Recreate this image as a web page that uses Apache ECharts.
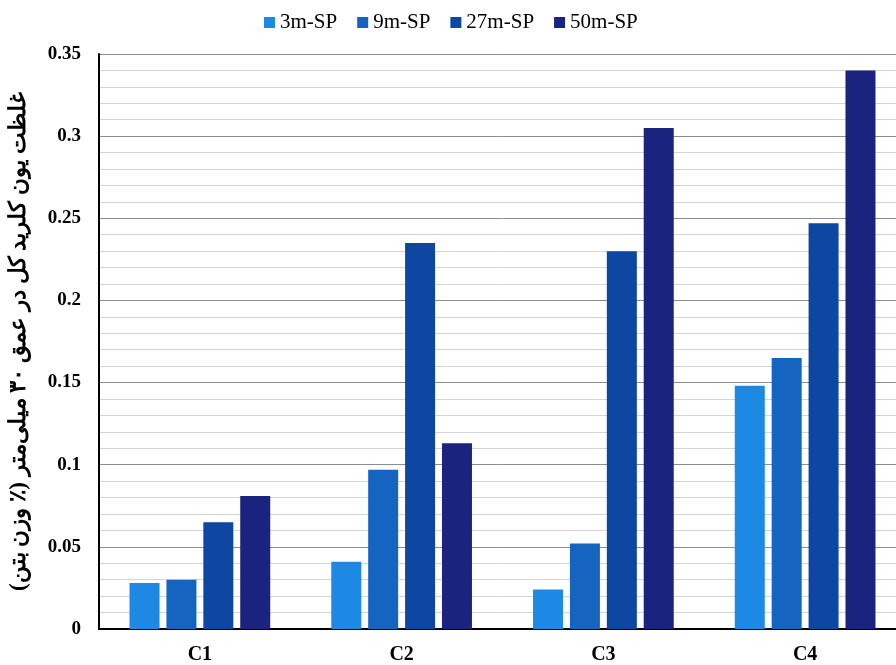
<!DOCTYPE html>
<html><head><meta charset="utf-8">
<script src="https://cdn.jsdelivr.net/npm/echarts@6/dist/echarts.min.js"></script>
<style>html,body{margin:0;padding:0;background:#fff;overflow:hidden}#c{width:912px;height:665px}</style>
</head><body><div id="c"></div>
<script>
const categories = ['C1', 'C2', 'C3', 'C4'];
const s3m = [0.028, 0.041, 0.024, 0.148];
const s9m = [0.030, 0.097, 0.052, 0.165];
const s27m = [0.065, 0.235, 0.230, 0.247];
const s50m = [0.081, 0.113, 0.305, 0.340];
const seriesNames = ['3m-SP', '9m-SP', '27m-SP', '50m-SP'];
const yTicks = { min: 0, max: 0.35, interval: 0.05 };
const yName = 'غلظت یون کلرید کل در عمق ۳۰ میلی‌متر (٪ وزن بتن)';

const colors = ['#1E88E5', '#1565C0', '#0D47A1', '#1A237E'];
const serif = '"Liberation Serif", "Times New Roman", serif';
const chart = echarts.init(document.getElementById('c'));
const data = [s3m, s9m, s27m, s50m];
chart.setOption({
  animation: false,
  color: colors,
  legend: {
    top: 7, left: 259, itemWidth: 11, itemHeight: 11, itemGap: 20,
    icon: 'rect',
    textStyle: { fontFamily: serif, fontSize: 21, color: '#000' },
    data: seriesNames
  },
  grid: { left: 98, width: 808, top: 54, bottom: 36, containLabel: false },
  xAxis: {
    type: 'category', data: categories,
    axisLine: { lineStyle: { color: '#000', width: 2 } },
    axisTick: { show: false },
    axisLabel: { fontFamily: serif, fontWeight: 'bold', fontSize: 20, color: '#000', margin: 16 }
  },
  yAxis: {
    type: 'value', min: yTicks.min, max: yTicks.max, interval: yTicks.interval,
    name: yName, nameLocation: 'middle', nameGap: 68, nameRotate: 90,
    nameTextStyle: { fontFamily: serif, fontWeight: 'bold', fontSize: 23, color: '#000' },
    axisLine: { show: true, lineStyle: { color: '#000', width: 2 } },
    axisTick: { show: false },
    axisLabel: { fontFamily: serif, fontWeight: 'bold', fontSize: 19, color: '#000', margin: 18,
      formatter: v => String(Math.round(v * 100) / 100) },
    splitLine: { lineStyle: { color: '#8c8c8c', width: 1 } },
    minorTick: { show: false, splitNumber: 5 },
    minorSplitLine: { show: true, lineStyle: { color: '#d4d4d4', width: 1 } }
  },
  series: data.map((d, i) => ({
    name: seriesNames[i], type: 'bar', data: d,
    barWidth: 30, barGap: '23%',
    itemStyle: { color: colors[i] }
  }))
});
</script></body></html>
